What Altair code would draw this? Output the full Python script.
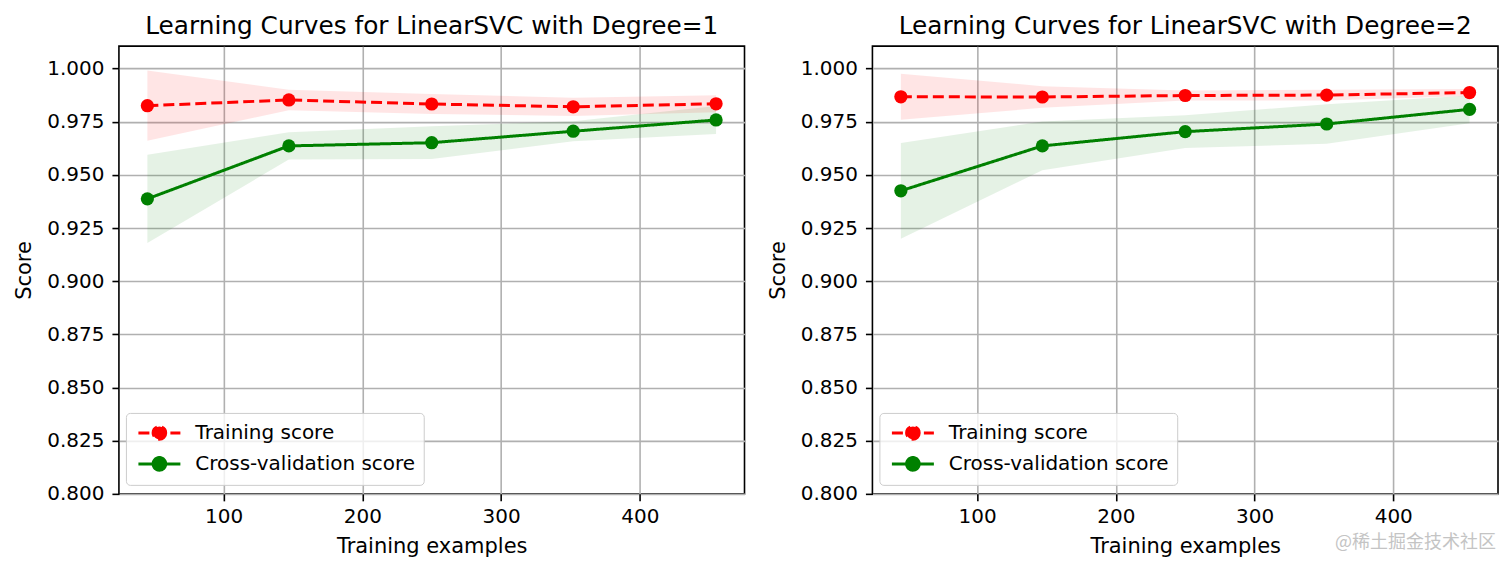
import altair as alt
import pandas as pd

# ---------------- data ----------------
train_sizes = [45, 147, 250, 352, 455]

deg1_train_mean = [0.9825, 0.9852, 0.9833, 0.9820, 0.9834]
deg1_train_std = [0.0165, 0.0048, 0.0047, 0.0043, 0.0040]
deg1_cv_mean = [0.9387, 0.9636, 0.9651, 0.9705, 0.9758]
deg1_cv_std = [0.0207, 0.0064, 0.0077, 0.0047, 0.0066]

deg2_train_mean = [0.9867, 0.9866, 0.9873, 0.9875, 0.9887]
deg2_train_std = [0.0108, 0.0051, 0.0024, 0.0025, 0.0016]
deg2_cv_mean = [0.9425, 0.9636, 0.9703, 0.9739, 0.9808]
deg2_cv_std = [0.0225, 0.0115, 0.0077, 0.0093, 0.0065]

series_names = ["Training score", "Cross-validation score"]
series_colors = ["#ff0000", "#008000"]
series_dashes = [[11, 5], [1, 0]]

y_ticks = [0.800, 0.825, 0.850, 0.875, 0.900, 0.925, 0.950, 0.975, 1.000]
x_ticks = [100, 200, 300, 400]
panel_titles = [
    "Learning Curves for LinearSVC with Degree=1",
    "Learning Curves for LinearSVC with Degree=2",
]
x_title = "Training examples"
y_title = "Score"
watermark = "@稀土掘金技术社区"

FONT = "DejaVu Sans"
PW, PH = 626, 448


def make_df(tr_mean, tr_std, cv_mean, cv_std):
    rows = []
    for name, means, stds in [
        (series_names[0], tr_mean, tr_std),
        (series_names[1], cv_mean, cv_std),
    ]:
        for s, m, sd in zip(train_sizes, means, stds):
            rows.append({"size": s, "mean": m, "lo": m - sd, "hi": m + sd, "series": name})
    return pd.DataFrame(rows)


legend_path = "M-2,0L2,0M0.6,0A0.6,0.6,0,1,1,-0.6,0A0.6,0.6,0,1,1,0.6,0Z"


def make_legend():
    return alt.Legend(
        title=None, orient="none", legendX=7, legendY=367,
        symbolType=legend_path, symbolSize=441, symbolOffset=13.5,
        symbolStrokeWidth=3, labelOffset=24, labelFontSize=20, labelFont=FONT,
        labelColor="black", labelLimit=500, padding=8, rowPadding=5,
        fillColor="rgba(255,255,255,0.8)", strokeColor="#cccccc", cornerRadius=4,
    )


def panel(tr_mean, tr_std, cv_mean, cv_std, title, with_mark=False):
    df = make_df(tr_mean, tr_std, cv_mean, cv_std)
    cscale = alt.Scale(domain=series_names, range=series_colors)
    dscale = alt.Scale(domain=series_names, range=series_dashes)
    xs = alt.Scale(domain=[24.5, 475.5], nice=False, zero=False)
    ys = alt.Scale(domain=[0.8, 1.0105], nice=False, zero=False)
    xaxis = alt.Axis(values=x_ticks, title=x_title, tickSize=7, labelPadding=6, titlePadding=9)
    yaxis = alt.Axis(values=y_ticks, format=".3f", title=y_title, tickSize=7,
                     labelPadding=8, titlePadding=12, minExtent=72, maxExtent=72)
    base = alt.Chart(df).encode(x=alt.X("size:Q", scale=xs, axis=xaxis))
    areas = [
        base.transform_filter(alt.datum.series == name)
        .mark_area(color=col, opacity=0.1)
        .encode(y=alt.Y("lo:Q", scale=ys, axis=yaxis), y2="hi:Q")
        for name, col in zip(series_names, series_colors)
    ]
    line = base.mark_line(strokeWidth=3).encode(
        y=alt.Y("mean:Q", scale=ys),
        color=alt.Color("series:N", scale=cscale, legend=make_legend()),
        strokeDash=alt.StrokeDash("series:N", scale=dscale, legend=make_legend()),
    )
    pts = base.mark_circle(size=175, opacity=1).encode(
        y=alt.Y("mean:Q", scale=ys),
        fill=alt.Fill("series:N", scale=cscale, legend=make_legend()),
    )
    layers = areas + [line, pts]
    if with_mark:
        wm = alt.Chart(pd.DataFrame({"t": [watermark]})).mark_text(
            align="left", baseline="middle", font="Noto Sans CJK SC",
            fontSize=18, color="#c4c4c4"
        ).encode(x=alt.value(463), y=alt.value(497), text="t:N")
        layers.append(wm)
    return alt.layer(*layers).properties(
        width=PW, height=PH, title=alt.TitleParams(title, anchor="middle")
    )


p1 = panel(deg1_train_mean, deg1_train_std, deg1_cv_mean, deg1_cv_std, panel_titles[0])
p2 = panel(deg2_train_mean, deg2_train_std, deg2_cv_mean, deg2_cv_std, panel_titles[1], with_mark=True)

chart = (
    alt.hconcat(p1, p2, spacing=21)
    .resolve_scale(color="independent", fill="independent", strokeDash="independent")
    .properties(padding={"left": 5, "top": 5, "right": 5, "bottom": 5}, background="white")
    .configure_axis(
        labelFont=FONT, labelFontSize=20, labelColor="black",
        titleFont=FONT, titleFontSize=21, titleFontWeight="normal", titleColor="black",
        tickColor="black", tickWidth=1.6, domain=False,
        gridColor="#b0b0b0", gridWidth=1.6, gridOpacity=1,
    )
    .configure_view(stroke="black", strokeWidth=1.6)
    .configure_title(font=FONT, fontSize=24.8, fontWeight="normal", color="black", offset=7)
)

chart.save("out.html", embed_options={"renderer": "svg", "actions": False})
